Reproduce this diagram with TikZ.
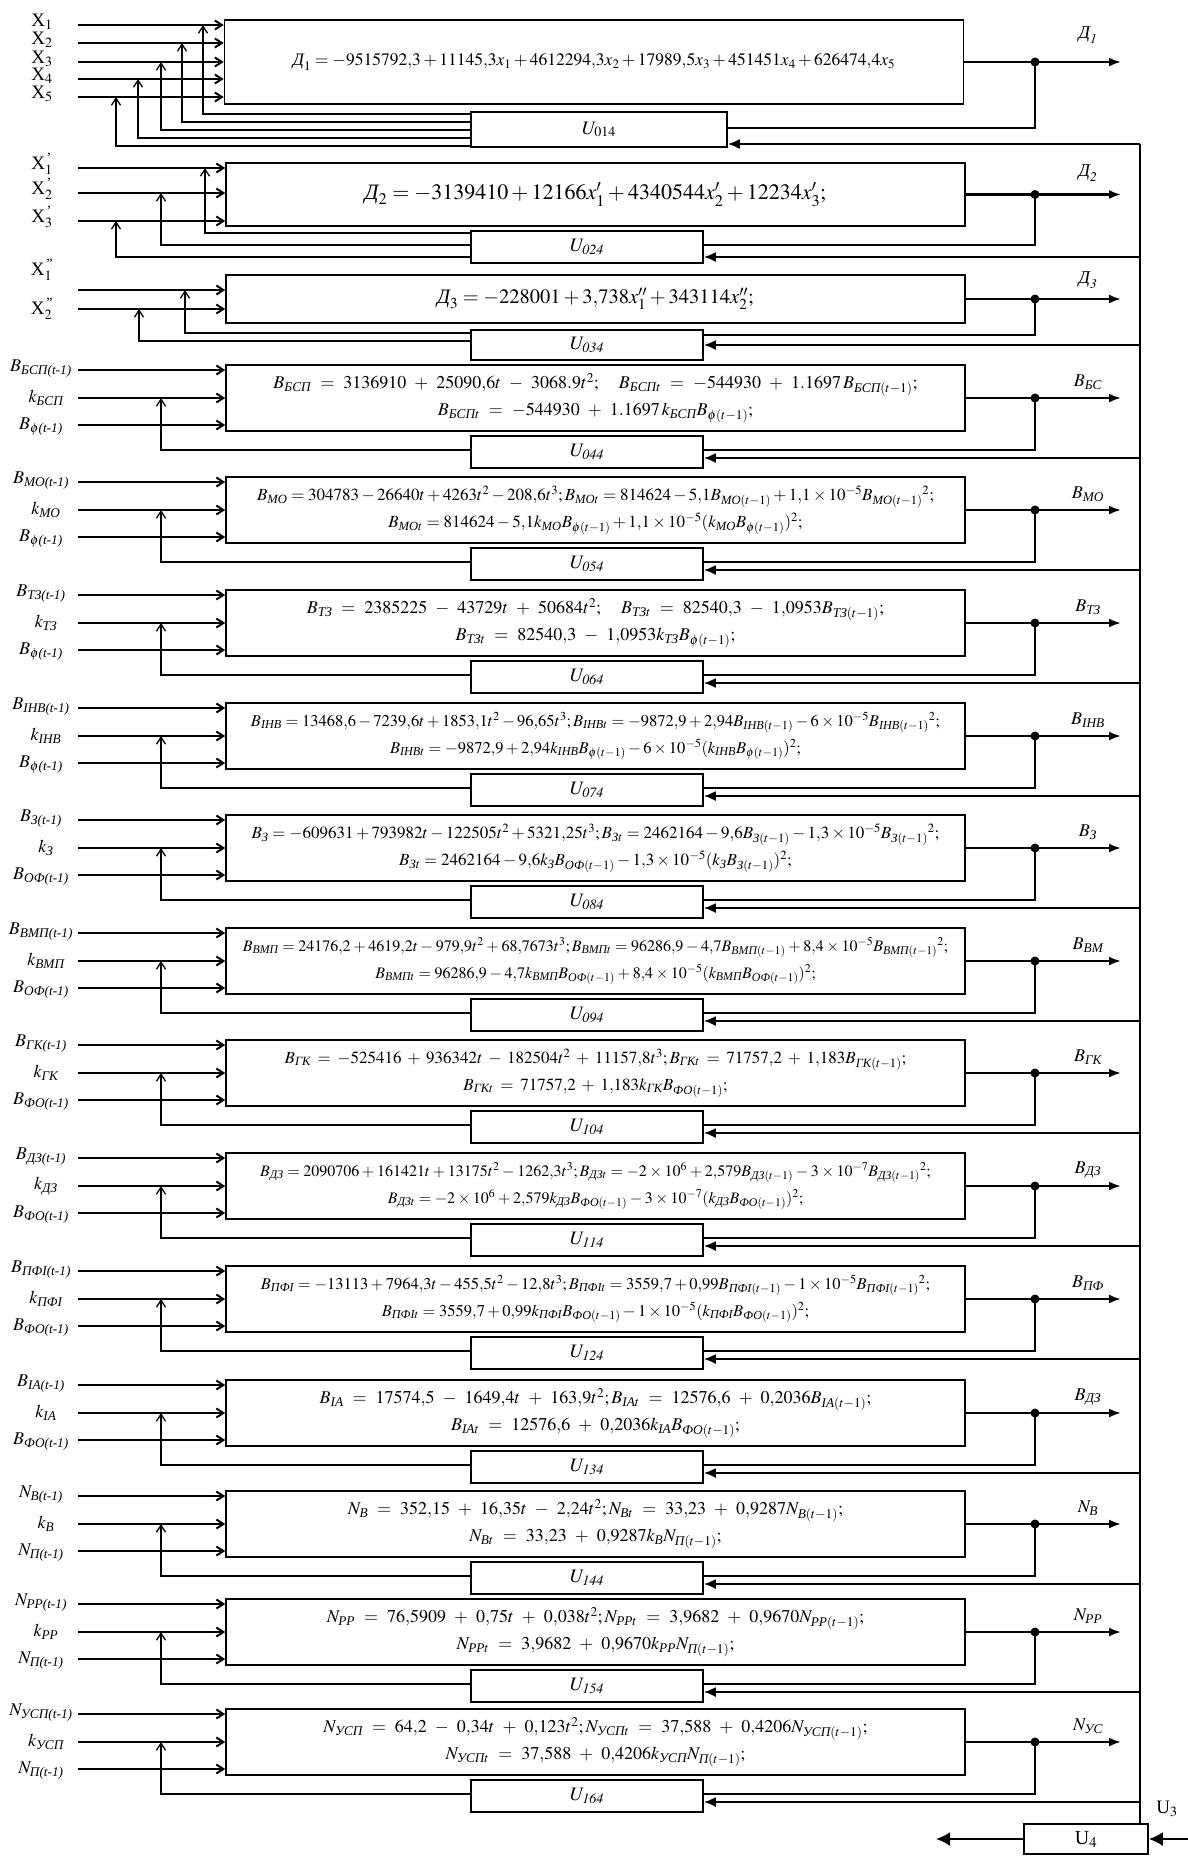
\documentclass[tikz,border=0pt]{standalone}
\usepackage{amsmath}
\usepackage{mathptmx}
\usepackage{fontspec}
\setmainfont{Liberation Serif}
\usetikzlibrary{arrows.meta,positioning}

\newcommand{\cy}[1]{\textit{#1}}
% one forecasting module: id, top, three inputs, two formula lines, output, text style
\newcommand{\modblock}[9]{%
  \node[fbox,#9] (f#1) at (595.5,#2+33) {#6\\#7};
  \node[ubox] (u#1) at (587,#2+87) {$U_{\mathit{#1}}$};
  \node[inl] (la#1) at (41,#2+4) {#3};
  \node[inl] (lb#1) at (46,#2+33) {#4};
  \node[inl] (lc#1) at (41,#2+62) {#5};
  \coordinate (a#1) at (78,#2+5);
  \coordinate (b#1) at (78,#2+33);
  \coordinate (c#1) at (78,#2+60);
  \coordinate (k#1) at (161,#2+33);
  \node[jdot] (d#1) at (1035,#2+33) {};
  \coordinate (o#1) at (1121,#2+33);
  \coordinate (s#1) at (1140,#2+93);
  \node[outl] (q#1) at (1088,#2+17) {#8};
  \draw[inarr] (a#1) -- (a#1 -| f#1.west);
  \draw[inarr] (b#1) -- (b#1 -| f#1.west);
  \draw[inarr] (c#1) -- (c#1 -| f#1.west);
  \draw[fbarr] ([yshift=2pt]u#1.west) -| (k#1);
  \draw[outarr] (f#1.east) -- (o#1);
  \draw[fbline] (d#1.center) |- ([yshift=2pt]u#1.east);
  \draw[busarr] (s#1) -- (s#1 -| u#1.east);
}

\begin{document}
\begin{tikzpicture}[x=1pt,y=-1pt,
fbox/.style={draw,line width=1.6pt,minimum width=739pt,minimum height=66pt,
inner sep=0pt,align=center,font=\fontsize{17}{27}\selectfont},
fwide/.style={font=\fontsize{18}{27}\selectfont,
  execute at begin node={\medmuskip 8mu\relax\thickmuskip 9mu\relax}},
fmid/.style={font=\fontsize{17}{27}\selectfont,
  execute at begin node={\medmuskip 6mu\relax\thickmuskip 7mu\relax}},
fnorm/.style={font=\fontsize{17}{27}\selectfont},
fslim/.style={font=\fontsize{16.5}{27}\selectfont},
fnarrow/.style={font=\fontsize{16}{27}\selectfont,
  execute at begin node={\medmuskip 3mu\relax\thickmuskip 4mu\relax}},
ubox/.style={draw,line width=1.6pt,fill=white,minimum width=232pt,minimum height=32pt,
inner sep=0pt,font=\fontsize{19}{22}\selectfont},
inl/.style={font=\fontsize{18}{20}\selectfont},
outl/.style={font=\fontsize{18}{20}\selectfont},
xl/.style={font=\fontsize{19}{22}\selectfont},
inarr/.style={-{Straight Barb[length=7pt,width=9pt]},line width=2pt},
fbarr/.style={-{Straight Barb[length=7pt,width=9pt]},line width=1.3pt},
outarr/.style={-{Latex[length=12pt,width=9pt]},line width=2.2pt},
fbline/.style={line width=1.6pt},
busarr/.style={-{Latex[length=12pt,width=10pt]},line width=2pt},
bigarr/.style={-{Latex[length=14pt,width=14pt]},line width=2.2pt},
jdot/.style={circle,fill,inner sep=0pt,minimum size=9pt}]
\useasboundingbox (0,0) rectangle (1188,1856);

% block 1
\node[fbox,minimum height=84pt,font=\fontsize{17.5}{22}\selectfont] (f014) at (594,62)
  {$\cy{Д}_1 = -9515792{,}3 + 11145{,}3x_1 + 4612294{,}3x_2 + 17989{,}5x_3 + 451451x_4 + 626474{,}4x_5$};
\node[ubox,minimum width=256pt,minimum height=35pt] (u014) at (599,129.5) {$U_{014}$};
\foreach \i/\y/\v/\s in {1/25/203/15.5,2/43/182/7.5,3/62/161/-0.5,4/79/138/-8.5,5/97/116/-16.5}{
  \node[xl] (x\i) at (42,\y-3) {X$_{\i}$};
  \coordinate (xs\i) at (78,\y);
  \coordinate (xk\i) at (\v,\y);
  \draw[inarr] (xs\i) -- (xs\i -| f014.west);
  \draw[fbarr] ([yshift=\s pt]u014.west) -| (xk\i);
}
\node[jdot] (d014) at (1035,62) {};
\coordinate (o014) at (1121,62);
\coordinate (s014) at (1140,144);
\node[outl] (q014) at (1088,35) {$\cy{Д}_{\mathit{1}}$};
\draw[outarr] (f014.east) -- (o014);
\draw[fbline] (d014.center) |- ([yshift=1.5pt]u014.east);
\draw[busarr] (s014) -- (s014 -| u014.east);

% block 2
\node[fbox,minimum height=63pt,font=\fontsize{22}{26}\selectfont] (f024) at (595.5,194.5)
  {$\cy{Д}_2 = -3139410 + 12166x'_1 + 4340544x'_2 + 12234x'_3;$};
\node[ubox] (u024) at (587,247) {$U_{\mathit{024}}$};
\foreach \i/\y/\v/\s in {1/168/205/14,2/193/161/2,3/221/116/-10}{
  \node[xl] (xp\i) at (42,\y-4) {X$_{\i}^{\,\textrm{'}}$};
  \coordinate (xps\i) at (78,\y);
  \coordinate (xpk\i) at (\v,\y);
  \draw[inarr] (xps\i) -- (xps\i -| f024.west);
  \draw[fbarr] ([yshift=\s pt]u024.west) -| (xpk\i);
}
\node[jdot] (d024) at (1035,194.5) {};
\coordinate (o024) at (1121,194.5);
\coordinate (s024) at (1140,257);
\node[outl] (q024) at (1088,173) {$\cy{Д}_{\mathit{2}}$};
\draw[outarr] (f024.east) -- (o024);
\draw[fbline] (d024.center) |- ([yshift=2pt]u024.east);
\draw[busarr] (s024) -- (s024 -| u024.east);

% block 3
\node[fbox,minimum height=48pt,font=\fontsize{20.5}{26}\selectfont] (f034) at (595.5,299)
  {$\cy{Д}_3 = -228001 + 3{,}738x''_1 + 343114x''_2;$};
\node[ubox,minimum height=30pt] (u034) at (587,345) {$U_{\mathit{034}}$};
\node[xl] (xq1) at (42,270) {X$_1^{\,\textrm{''}}$};
\node[xl] (xq2) at (42,309) {X$_2^{\,\textrm{''}}$};
\foreach \i/\y/\v/\s in {1/290/185/12,2/309/139/4}{
  \coordinate (xqs\i) at (78,\y);
  \coordinate (xqk\i) at (\v,\y);
  \draw[inarr] (xqs\i) -- (xqs\i -| f034.west);
  \draw[fbarr] ([yshift=\s pt]u034.west) -| (xqk\i);
}
\node[jdot] (d034) at (1035,299) {};
\coordinate (o034) at (1121,299);
\coordinate (s034) at (1140,345);
\node[outl] (q034) at (1088,280) {$\cy{Д}_{\mathit{3}}$};
\draw[outarr] (f034.east) -- (o034);
\draw[fbline] (d034.center) |- ([yshift=10pt]u034.east);
\draw[busarr] (s034) -- (s034 -| u034.east);

% forecasting modules
\modblock{044}{365}{$B_{\cy{БСП(t-1)}}$}{$k_{\cy{БСП}}$}{$B_{\phi\cy{(t-1)}}$}
  {$B_{\cy{БСП}} = 3136910 + 25090{,}6t - 3068.9t^2;\quad B_{\cy{БСП}t} = -544930 + 1.1697\,B_{\cy{БСП}(t-1)};$}
  {$B_{\cy{БСП}t} = -544930 + 1.1697\,k_{\cy{БСП}}B_{\phi(t-1)};$}
  {$B_{\cy{БС}}$}{fwide}
\modblock{054}{477}{$B_{\cy{МО(t-1)}}$}{$k_{\cy{МО}}$}{$B_{\phi\cy{(t-1)}}$}
  {$B_{\cy{МО}} = 304783 - 26640t + 4263t^2 - 208{,}6t^3; B_{\cy{МО}t} = 814624 - 5{,}1B_{\cy{МО}(t-1)} + 1{,}1\times10^{-5}B_{\cy{МО}(t-1)}{}^2;$}
  {$B_{\cy{МО}t} = 814624 - 5{,}1k_{\cy{МО}}B_{\phi(t-1)} + 1{,}1\times10^{-5}(k_{\cy{МО}}B_{\phi(t-1)})^2;$}
  {$B_{\cy{МО}}$}{fnorm}
\modblock{064}{590}{$B_{\cy{ТЗ(t-1)}}$}{$k_{\cy{ТЗ}}$}{$B_{\phi\cy{(t-1)}}$}
  {$B_{\cy{ТЗ}} = 2385225 - 43729t + 50684t^2;\quad B_{\cy{ТЗ}t} = 82540{,}3 - 1{,}0953B_{\cy{ТЗ}(t-1)};$}
  {$B_{\cy{ТЗ}t} = 82540{,}3 - 1{,}0953k_{\cy{ТЗ}}B_{\phi(t-1)};$}
  {$B_{\cy{ТЗ}}$}{fwide}
\modblock{074}{703}{$B_{\cy{ІНВ(t-1)}}$}{$k_{\cy{ІНВ}}$}{$B_{\phi\cy{(t-1)}}$}
  {$B_{\cy{ІНВ}} = 13468{,}6 - 7239{,}6t + 1853{,}1t^2 - 96{,}65t^3; B_{\cy{ІНВ}t} = -9872{,}9 + 2{,}94B_{\cy{ІНВ}(t-1)} - 6\times10^{-5}B_{\cy{ІНВ}(t-1)}{}^2;$}
  {$B_{\cy{ІНВ}t} = -9872{,}9 + 2{,}94k_{\cy{ІНВ}}B_{\phi(t-1)} - 6\times10^{-5}(k_{\cy{ІНВ}}B_{\phi(t-1)})^2;$}
  {$B_{\cy{ІНВ}}$}{fslim}
\modblock{084}{815}{$B_{\cy{З(t-1)}}$}{$k_{\cy{З}}$}{$B_{\cy{ОФ(t-1)}}$}
  {$B_{\cy{З}} = -609631 + 793982t - 122505t^2 + 5321{,}25t^3; B_{\cy{З}t} = 2462164 - 9{,}6B_{\cy{З}(t-1)} - 1{,}3\times10^{-5}B_{\cy{З}(t-1)}{}^2;$}
  {$B_{\cy{З}t} = 2462164 - 9{,}6k_{\cy{З}}B_{\cy{ОФ}(t-1)} - 1{,}3\times10^{-5}(k_{\cy{З}}B_{\cy{З}(t-1)})^2;$}
  {$B_{\cy{З}}$}{fnorm}
\modblock{094}{928}{$B_{\cy{ВМП(t-1)}}$}{$k_{\cy{ВМП}}$}{$B_{\cy{ОФ(t-1)}}$}
  {$B_{\cy{ВМП}} = 24176{,}2 + 4619{,}2t - 979{,}9t^2 + 68{,}7673t^3; B_{\cy{ВМП}t} = 96286{,}9 - 4{,}7B_{\cy{ВМП}(t-1)} + 8{,}4\times10^{-5}B_{\cy{ВМП}(t-1)}{}^2;$}
  {$B_{\cy{ВМП}t} = 96286{,}9 - 4{,}7k_{\cy{ВМП}}B_{\cy{ОФ}(t-1)} + 8{,}4\times10^{-5}(k_{\cy{ВМП}}B_{\cy{ОФ}(t-1)})^2;$}
  {$B_{\cy{ВМ}}$}{fnarrow}
\modblock{104}{1040}{$B_{\cy{ГК(t-1)}}$}{$k_{\cy{ГК}}$}{$B_{\cy{ФО(t-1)}}$}
  {$B_{\cy{ГК}} = -525416 + 936342t - 182504t^2 + 11157{,}8t^3; B_{\cy{ГК}t} = 71757{,}2 + 1{,}183B_{\cy{ГК}(t-1)};$}
  {$B_{\cy{ГК}t} = 71757{,}2 + 1{,}183k_{\cy{ГК}}B_{\cy{ФО}(t-1)};$}
  {$B_{\cy{ГК}}$}{fmid}
\modblock{114}{1153}{$B_{\cy{ДЗ(t-1)}}$}{$k_{\cy{ДЗ}}$}{$B_{\cy{ФО(t-1)}}$}
  {$B_{\cy{ДЗ}} = 2090706 + 161421t + 13175t^2 - 1262{,}3t^3; B_{\cy{ДЗ}t} = -2\times10^6 + 2{,}579B_{\cy{ДЗ}(t-1)} - 3\times10^{-7}B_{\cy{ДЗ}(t-1)}{}^2;$}
  {$B_{\cy{ДЗ}t} = -2\times10^6 + 2{,}579k_{\cy{ДЗ}}B_{\cy{ФО}(t-1)} - 3\times10^{-7}(k_{\cy{ДЗ}}B_{\cy{ФО}(t-1)})^2;$}
  {$B_{\cy{ДЗ}}$}{fnarrow}
\modblock{124}{1266}{$B_{\cy{ПФІ(t-1)}}$}{$k_{\cy{ПФІ}}$}{$B_{\cy{ФО(t-1)}}$}
  {$B_{\cy{ПФІ}} = -13113 + 7964{,}3t - 455{,}5t^2 - 12{,}8t^3; B_{\cy{ПФІ}t} = 3559{,}7 + 0{,}99B_{\cy{ПФІ}(t-1)} - 1\times10^{-5}B_{\cy{ПФІ}(t-1)}{}^2;$}
  {$B_{\cy{ПФІ}t} = 3559{,}7 + 0{,}99k_{\cy{ПФІ}}B_{\cy{ФО}(t-1)} - 1\times10^{-5}(k_{\cy{ПФІ}}B_{\cy{ФО}(t-1)})^2;$}
  {$B_{\cy{ПФ}}$}{fslim}
\modblock{134}{1380}{$B_{\cy{ІА(t-1)}}$}{$k_{\cy{ІА}}$}{$B_{\cy{ФО(t-1)}}$}
  {$B_{\cy{ІА}} = 17574{,}5 - 1649{,}4t + 163{,}9t^2; B_{\cy{ІА}t} = 12576{,}6 + 0{,}2036B_{\cy{ІА}(t-1)};$}
  {$B_{\cy{ІА}t} = 12576{,}6 + 0{,}2036k_{\cy{ІА}}B_{\cy{ФО}(t-1)};$}
  {$B_{\cy{ДЗ}}$}{fwide}
\modblock{144}{1491}{$N_{\cy{В(t-1)}}$}{$k_{\cy{В}}$}{$N_{\cy{П(t-1)}}$}
  {$N_{\cy{В}} = 352{,}15 + 16{,}35t - 2{,}24t^2; N_{\cy{В}t} = 33{,}23 + 0{,}9287N_{\cy{В}(t-1)};$}
  {$N_{\cy{В}t} = 33{,}23 + 0{,}9287k_{\cy{В}}N_{\cy{П}(t-1)};$}
  {$N_{\cy{В}}$}{fwide}
\modblock{154}{1599}{$N_{\cy{РР(t-1)}}$}{$k_{\cy{РР}}$}{$N_{\cy{П(t-1)}}$}
  {$N_{\cy{РР}} = 76{,}5909 + 0{,}75t + 0{,}038t^2; N_{\cy{РР}t} = 3{,}9682 + 0{,}9670N_{\cy{РР}(t-1)};$}
  {$N_{\cy{РР}t} = 3{,}9682 + 0{,}9670k_{\cy{РР}}N_{\cy{П}(t-1)};$}
  {$N_{\cy{РР}}$}{fwide}
\modblock{164}{1709}{$N_{\cy{УСП(t-1)}}$}{$k_{\cy{УСП}}$}{$N_{\cy{П(t-1)}}$}
  {$N_{\cy{УСП}} = 64{,}2 - 0{,}34t + 0{,}123t^2; N_{\cy{УСП}t} = 37{,}588 + 0{,}4206N_{\cy{УСП}(t-1)};$}
  {$N_{\cy{УСП}t} = 37{,}588 + 0{,}4206k_{\cy{УСП}}N_{\cy{П}(t-1)};$}
  {$N_{\cy{УС}}$}{fwide}

% common bus and output unit
\node[ubox,minimum width=124pt,minimum height=30pt,font=\fontsize{20}{22}\selectfont] (uout) at (1086,1839) {U$_4$};
\node[xl] (lu3) at (1167,1809) {U$_3$};
\coordinate (ol) at (936,1839);
\coordinate (or) at (1194,1839);
\draw[line width=1.6pt] (s014) -- (s014 |- uout.north);
\draw[bigarr] (uout.west) -- (ol);
\draw[bigarr] (or) -- (uout.east);
\end{tikzpicture}
\end{document}
